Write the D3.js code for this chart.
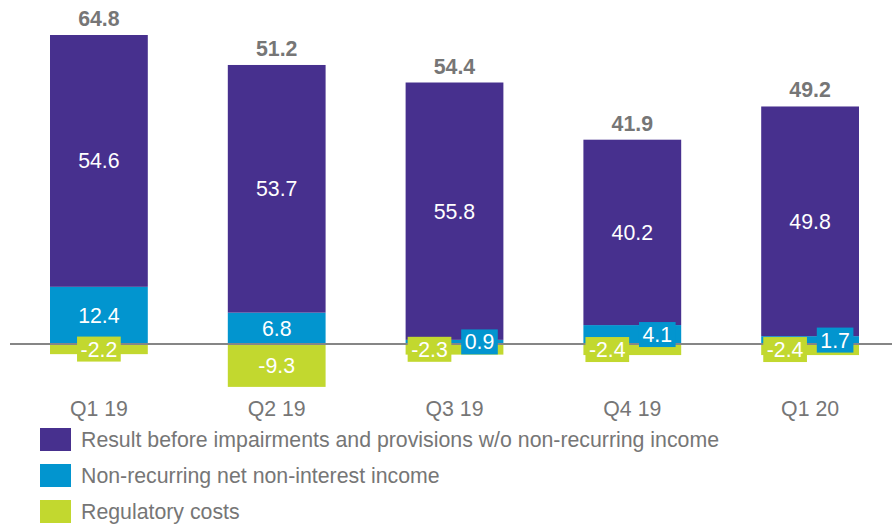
<!DOCTYPE html>
<html>
<head>
<meta charset="utf-8">
<script src="https://cdn.jsdelivr.net/npm/d3@7"></script>
<style>
  body { margin: 0; background: #fff; }
  text { font-family: "Liberation Sans", Arial, sans-serif; }
</style>
</head>
<body>
<div id="chart"></div>
<script>
const quarters = ['Q1 19', 'Q2 19', 'Q3 19', 'Q4 19', 'Q1 20'];
const resultBefore = [54.6, 53.7, 55.8, 40.2, 49.8];
const nonRecurring = [12.4, 6.8, 0.9, 4.1, 1.7];
const regulatory = [-2.2, -9.3, -2.3, -2.4, -2.4];
const totals = [64.8, 51.2, 54.4, 41.9, 49.2];

const seriesNames = [
  'Result before impairments and provisions w/o non-recurring income',
  'Non-recurring net non-interest income',
  'Regulatory costs'
];
const colors = ['#47308e', '#0295cf', '#c2d82f'];
const textGray = '#767676';
const fontSize = '21.3px';

const width = 892, height = 524;
const baseY = 344, topY = 35;

// plain hyphen for negatives, like the original
const fmt = v => v.toFixed(1);

const svg = d3.select('#chart')
  .append('svg')
  .attr('width', width)
  .attr('height', height);

const x = d3.scaleBand()
  .domain(quarters)
  .range([10, 899])
  .paddingInner(0.45)
  .paddingOuter(0.225);

const maxPos = d3.max(quarters, (q, i) => resultBefore[i] + nonRecurring[i]);
const y = d3.scaleLinear()
  .domain([0, maxPos])
  .range([baseY, topY]);

// segments: blue sits on zero, purple on top of blue, green below zero
const segs = [];
quarters.forEach((q, i) => {
  segs.push({q, s: 1, y0: 0, y1: nonRecurring[i], v: nonRecurring[i]});
  segs.push({q, s: 0, y0: nonRecurring[i], y1: nonRecurring[i] + resultBefore[i], v: resultBefore[i]});
  segs.push({q, s: 2, y0: regulatory[i], y1: 0, v: regulatory[i]});
});

svg.append('g')
  .selectAll('rect')
  .data(segs)
  .join('rect')
  .attr('x', d => x(d.q))
  .attr('width', x.bandwidth())
  .attr('y', d => y(d.y1))
  .attr('height', d => y(d.y0) - y(d.y1))
  .attr('fill', d => colors[d.s]);

// zero line
svg.append('line')
  .attr('x1', 10).attr('x2', width)
  .attr('y1', y(0)).attr('y2', y(0))
  .attr('stroke', '#868686')
  .attr('stroke-width', 2);

// segment labels, small ones get a coloured box
const small = d => Math.abs(y(d.y0) - y(d.y1)) < 25;
const labels = svg.append('g');
segs.forEach(d => {
  const i = quarters.indexOf(d.q);
  const cx = x(d.q) + x.bandwidth() / 2;
  const cy = (y(d.y0) + y(d.y1)) / 2;
  let lx = cx;
  if (small(d) && d.s !== 0) {
    const blueSmall = Math.abs(y(nonRecurring[i]) - y(0)) < 25;
    if (blueSmall) lx = cx + (d.s === 2 ? -25 : 25);
  }
  const g = labels.append('g');
  const t = g.append('text')
    .attr('x', lx)
    .attr('y', cy)
    .attr('dy', '0.35em')
    .attr('text-anchor', 'middle')
    .attr('fill', '#fff')
    .style('font-size', fontSize)
    .text(fmt(d.v));
  if (small(d)) {
    const w = t.node().getComputedTextLength() + 7;
    g.insert('rect', 'text')
      .attr('x', lx - w / 2)
      .attr('y', cy - 12.5)
      .attr('width', w)
      .attr('height', 25)
      .attr('fill', colors[d.s]);
  }
});

// totals on top
svg.append('g')
  .selectAll('text')
  .data(quarters)
  .join('text')
  .attr('x', d => x(d) + x.bandwidth() / 2)
  .attr('y', (d, i) => y(resultBefore[i] + nonRecurring[i]) - 9)
  .attr('text-anchor', 'middle')
  .attr('fill', textGray)
  .style('font-size', fontSize)
  .style('font-weight', 'bold')
  .text((d, i) => fmt(totals[i]));

// category axis
const xAxis = svg.append('g')
  .attr('transform', `translate(0,${baseY})`)
  .call(d3.axisBottom(x).tickSize(0).tickPadding(57));
xAxis.select('.domain').remove();
xAxis.selectAll('text')
  .attr('fill', textGray)
  .style('font-size', fontSize)
  .style('font-family', '"Liberation Sans", Arial, sans-serif');

// legend
const legend = svg.append('g')
  .selectAll('g')
  .data(seriesNames)
  .join('g')
  .attr('transform', (d, i) => `translate(40,${428 + i * 36})`);
legend.append('rect')
  .attr('width', 31)
  .attr('height', 23)
  .attr('fill', (d, i) => colors[i]);
legend.append('text')
  .attr('x', 41)
  .attr('y', 11.5)
  .attr('dy', '0.35em')
  .attr('fill', textGray)
  .style('font-size', fontSize)
  .text(d => d);
</script>
</body>
</html>
